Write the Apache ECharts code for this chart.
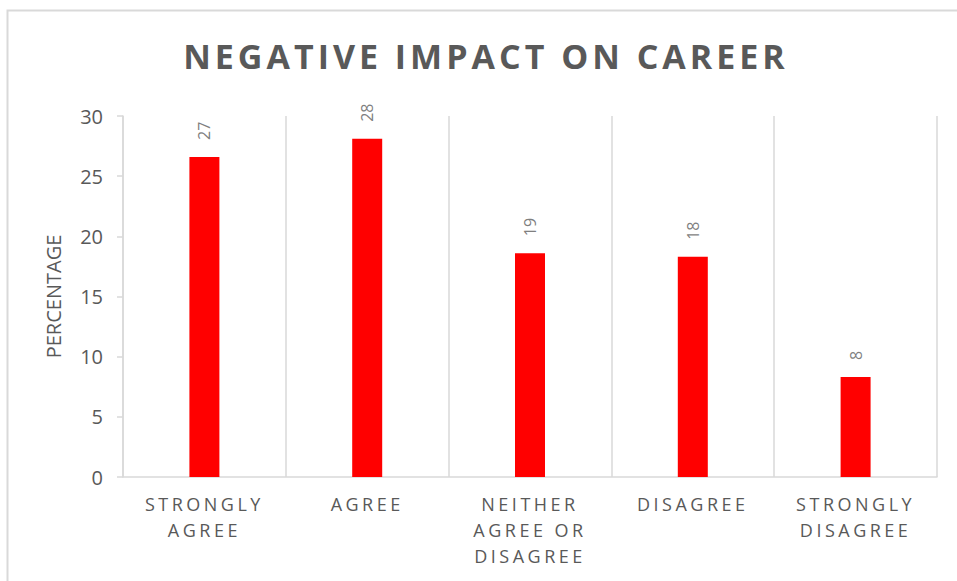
<!DOCTYPE html>
<html>
<head>
<meta charset="utf-8">
<script src="https://cdn.jsdelivr.net/npm/echarts@6/dist/echarts.min.js"></script>
<style>
  html, body { margin: 0; padding: 0; background: #fff; }
  #chart { width: 957px; height: 581px; }
  /* spaced capitals for the title and the category labels */
  #chart text[style*="34px"] { letter-spacing: 4px; }
  #chart text[style*="18px"] { letter-spacing: 3.5px; }
</style>
</head>
<body>
<div id="chart"></div>
<script>
// Responses to "negative impact on career", in percent
const categories = [
  'STRONGLY\nAGREE',
  'AGREE',
  'NEITHER\nAGREE OR\nDISAGREE',
  'DISAGREE',
  'STRONGLY\nDISAGREE'
];
const percentages = [26.6, 28.1, 18.6, 18.3, 8.3];
const yTicks = { min: 0, max: 30, step: 5 };

const FONT = '"Open Sans", "Noto Sans", sans-serif';
const GRID = '#d9d9d9';

const chart = echarts.init(document.getElementById('chart'), null, { renderer: 'svg' });

chart.setOption({
  animation: false,
  backgroundColor: '#ffffff',
  graphic: [{
    type: 'rect',
    shape: { x: 7.5, y: 10.5, width: 1000, height: 700 },
    style: { fill: 'none', stroke: GRID, lineWidth: 2 },
    silent: true,
    z: -10
  }],
  title: {
    text: 'NEGATIVE IMPACT ON CAREER',
    left: 481,
    textAlign: 'center',
    top: 34,
    textStyle: { fontFamily: FONT, fontSize: 34, fontWeight: 'bold', color: '#595959' }
  },
  grid: { left: 123, right: 20, top: 116, bottom: 104, containLabel: false },
  xAxis: {
    type: 'category',
    data: categories,
    boundaryGap: true,
    axisLine: { show: true, lineStyle: { color: GRID, width: 1.5 } },
    axisTick: { show: false },
    splitLine: { show: true, lineStyle: { color: GRID, width: 1.5 } },
    axisLabel: {
      interval: 0,
      margin: 14,
      fontFamily: FONT,
      fontSize: 18,
      lineHeight: 26,
      color: '#595959'
    }
  },
  yAxis: {
    type: 'value',
    name: 'PERCENTAGE',
    nameLocation: 'middle',
    nameGap: 60,
    nameTextStyle: { fontFamily: FONT, fontSize: 20, color: '#595959' },
    min: yTicks.min,
    max: yTicks.max,
    interval: yTicks.step,
    axisLine: { show: true, lineStyle: { color: GRID, width: 1.5 } },
    axisTick: { show: true, length: 6, lineStyle: { color: GRID, width: 1.5 } },
    splitLine: { show: false },
    axisLabel: { fontFamily: FONT, fontSize: 20, color: '#595959', margin: 20 }
  },
  series: [{
    type: 'bar',
    data: percentages,
    barWidth: 30,
    itemStyle: { color: '#ff0000' },
    label: {
      show: true,
      position: 'top',
      rotate: 90,
      align: 'left',
      verticalAlign: 'middle',
      distance: 17,
      fontFamily: FONT,
      fontSize: 16,
      color: '#7f7f7f',
      formatter: p => String(Math.round(p.value))
    }
  }]
});
</script>
</body>
</html>
